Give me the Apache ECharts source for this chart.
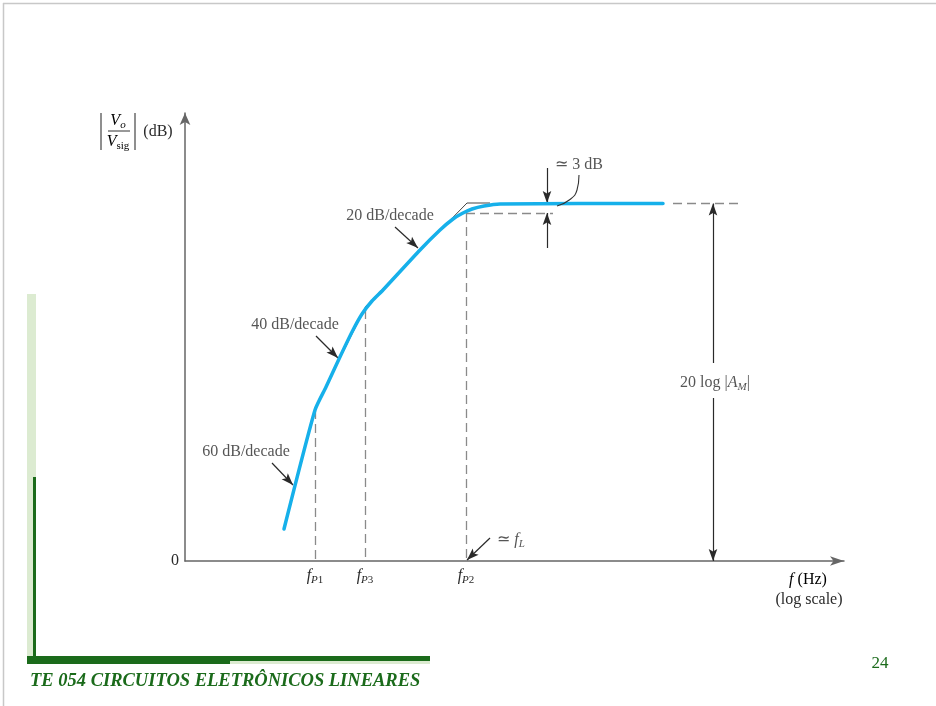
<!DOCTYPE html>
<html><head><meta charset="utf-8">
<script src="https://cdn.jsdelivr.net/npm/echarts@6/dist/echarts.min.js"></script>
<style>html,body{margin:0;padding:0;background:#fff}#c{width:936px;height:706px}</style>
</head><body><div id="c"></div>
<script>
// ---- data (x = log10 frequency in decades from the vertical axis, y = gain in dB) ----
const blueX = [0.99, 1.30, 1.41, 1.54, 1.67, 1.77, 1.87, 1.98, 2.35, 2.55, 2.68, 2.77, 2.87, 2.99, 3.15, 4.78];
const blueY = [6.4, 30.2, 34.8, 40.4, 45.8, 49.4, 52.0, 54.2, 62.2, 66.2, 68.4, 69.5, 70.4, 71.0, 71.4, 71.5];
const asymX = [1.30, 1.81, 2.82, 3.05];
const asymY = [30.6, 51.0, 71.6, 71.6];
const poleNames = ['P1', 'P3', 'P2'];
const poleX = [1.30, 1.80, 2.81];
const poleTopY = [30.2, 50.2, 69.6];
const midbandDB = 71.5;
const minus3dB = 69.6;
const threeDbEndX = 3.68;
const midExtX = [4.88, 5.57];
// annotation arrows: [tailX, tailY, tipX, tipY]
const arrowSegs = [
  [0.87, 19.6, 1.08, 15.2],
  [1.31, 45.0, 1.53, 40.6],
  [2.10, 66.8, 2.33, 62.6],
  [3.05, 4.6, 2.82, 0.2],
  [3.62, 78.6, 3.62, 71.6],
  [3.62, 62.6, 3.62, 69.6],
  [5.28, 39.6, 5.28, 71.5],
  [5.28, 32.6, 5.28, 0]
];
const leaderX = [3.94, 3.92, 3.85, 3.72];
const leaderY = [77.2, 74.2, 72.3, 71.0];
const labelX = [0.61, 1.10, 2.05, 3.94, 3.26, 5.30];
const labelY = [21.8, 47.2, 69.0, 79.2, 4.2, 35.6];
const labelText = [
  '{n|60 dB/decade}',
  '{n|40 dB/decade}',
  '{n|20 dB/decade}',
  '{n|≃ 3 dB}',
  '{n|≃ }{i|f}{s|L}',
  '{n|20 log |}{i|A}{s|M}{n||}'
];
const xMax = 6.59, yMax = 89.6;

const F = 'Liberation Serif';
const TXT = '#2a2a2a';
const rich = {
  n: {fontFamily: F, fontSize: 16, color: TXT, lineHeight: 20},
  i: {fontFamily: F, fontStyle: 'italic', fontSize: 16, color: TXT, lineHeight: 20},
  s: {fontFamily: F, fontStyle: 'italic', fontSize: 11, color: TXT, lineHeight: 11, verticalAlign: 'bottom'},
  d: {fontFamily: F, fontSize: 11, color: TXT, lineHeight: 11, verticalAlign: 'bottom'}
};
const arrowPath = 'path://M5,0 L10,14 L5,11 L0,14 Z';

const guideSegs = [];
poleX.forEach((x, i) => guideSegs.push([x, poleTopY[i], x, 0]));
guideSegs.push([poleX[2], minus3dB, threeDbEndX, minus3dB]);
guideSegs.push([midExtX[0], midbandDB, midExtX[1], midbandDB]);

const chart = echarts.init(document.getElementById('c'));
chart.setOption({
  animation: false,
  backgroundColor: '#fff',
  grid: {left: 185, top: 113, right: 92, bottom: 145, containLabel: false, outerBoundsMode: 'none'},
  xAxis: {
    type: 'value', min: 0, max: xMax,
    axisLine: {show: true, onZero: true, symbol: ['none', 'arrow'], symbolSize: [7, 14], lineStyle: {color: '#666', width: 1.5}},
    axisTick: {show: false}, splitLine: {show: false},
    axisLabel: {
      show: true, margin: 5, customValues: poleX,
      formatter: function (v) {
        for (let k = 0; k < poleX.length; k++) {
          if (Math.abs(v - poleX[k]) < 1e-6) return '{i|f}{s|P}{d|' + poleNames[k].slice(1) + '}';
        }
        return '';
      },
      rich: rich
    }
  },
  yAxis: {
    type: 'value', min: 0, max: yMax, interval: yMax,
    axisLine: {show: true, symbol: ['none', 'arrow'], symbolSize: [8, 12], lineStyle: {color: '#666', width: 1.5}},
    axisTick: {show: false}, splitLine: {show: false},
    axisLabel: {margin: 6, fontFamily: F, fontSize: 16, color: TXT, formatter: v => (v === 0 ? '0' : '')}
  },
  series: [
    {
      type: 'line', name: 'asymptote', silent: true, symbol: 'none', z: 3,
      data: asymX.map((x, i) => [x, asymY[i]]),
      lineStyle: {color: '#444', width: 1}
    },
    {
      type: 'scatter', name: 'guides', silent: true, symbolSize: 0, z: 2,
      data: poleX.map(x => [x, 0]),
      markLine: {
        silent: true, symbol: ['none', 'none'], label: {show: false},
        lineStyle: {color: '#8a8a8a', width: 1.3, type: [9, 5]},
        data: guideSegs.map(s => [{coord: [s[0], s[1]]}, {coord: [s[2], s[3]]}])
      }
    },
    {
      type: 'line', name: 'response', silent: true, symbol: 'none', z: 5,
      smooth: 0.2,
      data: blueX.map((x, i) => [x, blueY[i]]),
      lineStyle: {color: '#16b0ea', width: 3.5, cap: 'round', join: 'round'}
    },
    {
      type: 'line', name: 'leader', silent: true, symbol: 'none', z: 6, smooth: 0.5,
      data: leaderX.map((x, i) => [x, leaderY[i]]),
      lineStyle: {color: '#333', width: 1.1}
    },
    {
      type: 'scatter', name: 'labels', silent: true, symbolSize: 0, clip: false, z: 7,
      itemStyle: {color: '#2a2a2a'},
      data: labelX.map((x, i) => ({value: [x, labelY[i]], t: labelText[i]})),
      label: {show: true, position: 'inside', formatter: p => p.data.t, fontFamily: F, fontSize: 16, color: TXT, rich: rich},
      markLine: {
        silent: true, label: {show: false},
        symbol: ['none', arrowPath], symbolSize: 12, symbolKeepAspect: true,
        symbolOffset: [0, [0, 6]],
        itemStyle: {color: '#2a2a2a'},
        lineStyle: {color: '#2a2a2a', width: 1.2, type: 'solid'},
        data: arrowSegs.map(s => [{coord: [s[0], s[1]]}, {coord: [s[2], s[3]]}])
      }
    }
  ],
  graphic: [
    {type: 'line', silent: true, shape: {x1: 3, y1: 3.5, x2: 936, y2: 3.5}, style: {stroke: '#c8c8c8', lineWidth: 1.5}},
    {type: 'line', silent: true, shape: {x1: 3.5, y1: 3, x2: 3.5, y2: 706}, style: {stroke: '#c8c8c8', lineWidth: 1.5}},
    {type: 'rect', silent: true, shape: {x: 27, y: 294, width: 9, height: 366}, style: {fill: '#dcebd1'}},
    {type: 'rect', silent: true, shape: {x: 33, y: 477, width: 3, height: 183}, style: {fill: '#1b6b1b'}},
    {type: 'rect', silent: true, shape: {x: 27, y: 656, width: 403, height: 8}, style: {fill: '#1b6b1b'}},
    {type: 'rect', silent: true, shape: {x: 230, y: 661, width: 200, height: 3}, style: {fill: '#dcebd1'}},
    {type: 'text', silent: true, style: {text: 'TE 054 CIRCUITOS ELETRÔNICOS LINEARES', x: 30, y: 681, align: 'left', verticalAlign: 'middle', font: 'italic bold 18.5px "Liberation Serif"', fill: '#1b6b1b'}},
    {type: 'text', silent: true, style: {text: '24', x: 880, y: 664, align: 'center', verticalAlign: 'middle', font: '17px "Liberation Serif"', fill: '#1b6b1b'}},
    // y-axis title |Vo / Vsig| (dB)
    {type: 'line', silent: true, shape: {x1: 101, y1: 113, x2: 101, y2: 150}, style: {stroke: '#333', lineWidth: 1.1}},
    {type: 'line', silent: true, shape: {x1: 135, y1: 113, x2: 135, y2: 150}, style: {stroke: '#333', lineWidth: 1.1}},
    {type: 'line', silent: true, shape: {x1: 108, y1: 131, x2: 130, y2: 131}, style: {stroke: '#333', lineWidth: 1}},
    {type: 'text', silent: true, style: {text: '{i|V}{s|o}', x: 118, y: 121, align: 'center', verticalAlign: 'middle', rich: rich}},
    {type: 'text', silent: true, style: {text: '{i|V}{d|sig}', x: 118, y: 142, align: 'center', verticalAlign: 'middle', rich: rich}},
    {type: 'text', silent: true, style: {text: '(dB)', x: 158, y: 132, align: 'center', verticalAlign: 'middle', font: '16px "Liberation Serif"', fill: TXT}},
    // x-axis title
    {type: 'text', silent: true, style: {text: '{i|f}{n| (Hz)}', x: 808, y: 580, align: 'center', verticalAlign: 'middle', rich: rich}},
    {type: 'text', silent: true, style: {text: '(log scale)', x: 809, y: 600, align: 'center', verticalAlign: 'middle', font: '16px "Liberation Serif"', fill: TXT}}
  ]
});
</script>
</body></html>
